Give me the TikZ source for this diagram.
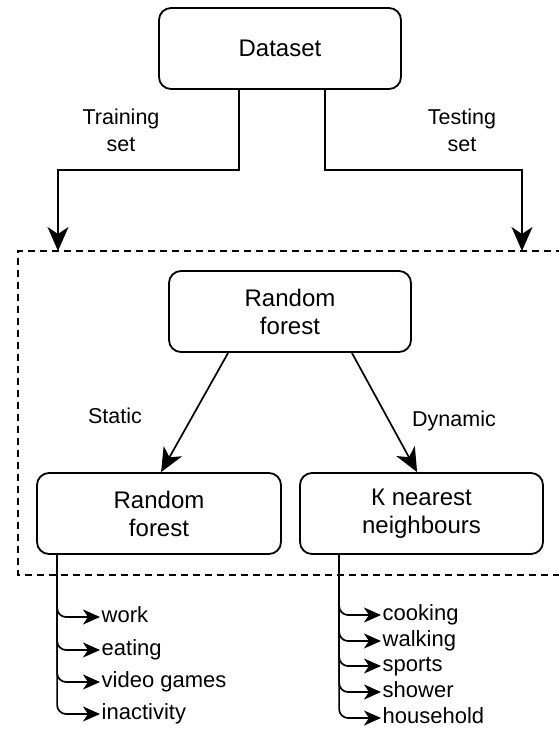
\documentclass[tikz,border=0pt]{standalone}
\usepackage{fontspec}
\setmainfont{Liberation Sans}
\usetikzlibrary{arrows.meta}
\begin{document}
\begin{tikzpicture}[x=1pt,y=-1pt,
  box/.style={draw,line width=1.8pt,rounded corners=12pt,align=center,
    minimum width=242pt,minimum height=81pt,inner sep=0pt,
    font=\fontsize{24}{28}\selectfont},
  lbl/.style={align=center,inner sep=0pt,font=\fontsize{21.5}{27}\selectfont},
  item/.style={anchor=west,inner sep=1.5pt,text height=15.5pt,text depth=4.5pt,
    font=\fontsize{22}{26}\selectfont},
  conn/.style={line width=1.7pt},
  bigarr/.style={conn,-{Stealth[length=24pt,width=21pt,inset=7pt]}},
  smallarr/.style={conn,-{Stealth[length=17pt,width=15pt,inset=5pt]}},
  dashbox/.style={line width=1.7pt,dash pattern=on 7pt off 5pt}
]
\useasboundingbox (0,0) rectangle (558,729);

% boxes
\node[box] (ds) at (280,48.5) {Dataset};
\node[box] (rf1) at (290,311.5) {Random\\forest};
\node[box,minimum width=244pt] (rf2) at (159,513.5) {Random\\forest};
\node[box,minimum width=243pt] (knn) at (421.5,513.5) {К nearest\\neighbours};

% dashed frame (right side is outside the picture)
\draw[dashbox] (575,251) -- (18,251) -- (18,575) -- (575,575);

% inputs from dataset
\coordinate (inL) at (58,251);
\coordinate (inR) at (522,251);
\coordinate (dsL) at ([xshift=81pt]ds.south west);
\coordinate (dsR) at ([xshift=-77pt]ds.south east);
\draw[bigarr] (dsL) -- (dsL |- 0,170) -| (inL);
\draw[bigarr] (dsR) -- (dsR |- 0,170) -| (inR);
\node[lbl] (ltrain) at (121,130.5) {Training\\set};
\node[lbl] (ltest) at (462,130.5) {Testing\\set};

% static / dynamic
\draw[bigarr] ([xshift=60pt]rf1.south west) -- ([xshift=125pt]rf2.north west);
\draw[bigarr] ([xshift=-60pt]rf1.south east) -- ([xshift=118pt]knn.north west);
\node[lbl] (lstatic) at (115,416) {Static};
\node[lbl] (ldyn) at (454,421) {Dynamic};

% static activities
\node[item] (w1) at (100,617) {work};
\node[item] (w2) at (100,650) {eating};
\node[item] (w3) at (100,682) {video games};
\node[item] (w4) at (100,714) {inactivity};
\coordinate (tL) at ([xshift=21pt]rf2.south west);
\foreach \n in {w1,w2,w3,w4} \draw[smallarr] (tL) [rounded corners=9pt] |- (\n.west);

% dynamic activities
\node[item] (d1) at (381,615) {cooking};
\node[item] (d2) at (381,641) {walking};
\node[item] (d3) at (381,666) {sports};
\node[item] (d4) at (381,692) {shower};
\node[item] (d5) at (381,718) {household};
\coordinate (tR) at ([xshift=40pt]knn.south west);
\foreach \n in {d1,d2,d3,d4,d5} \draw[smallarr] (tR) [rounded corners=9pt] |- (\n.west);
\end{tikzpicture}
\end{document}
